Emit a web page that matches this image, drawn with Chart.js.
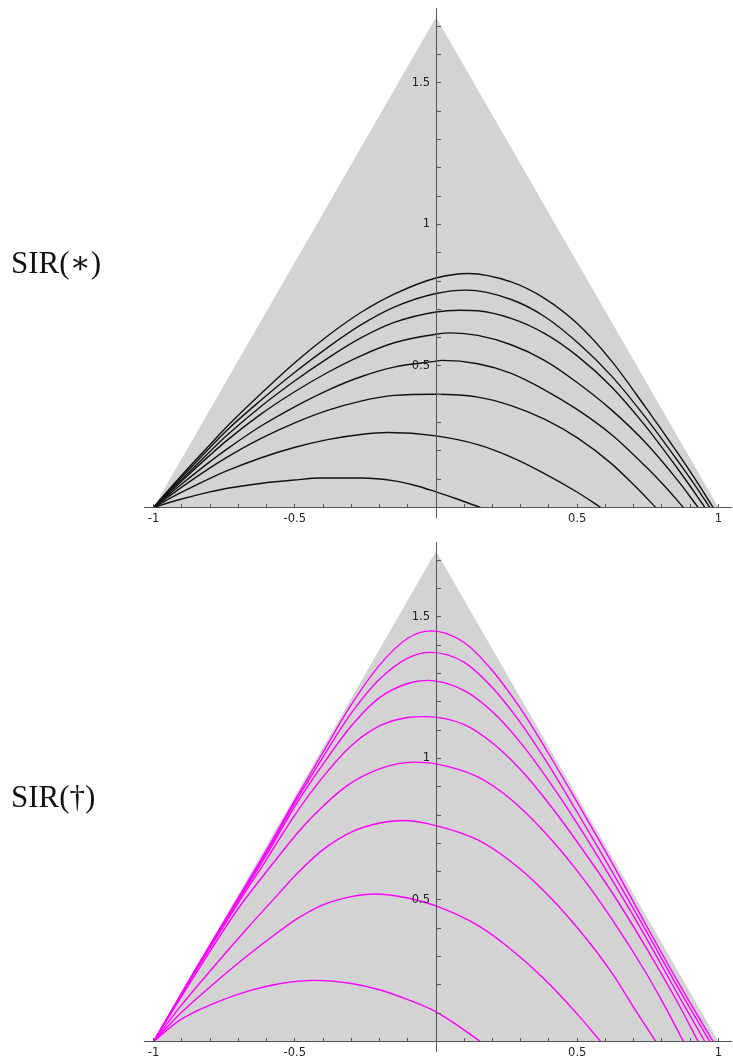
<!DOCTYPE html>
<html>
<head>
<meta charset="utf-8">
<script src="https://cdn.jsdelivr.net/npm/chart.js@4.4.0/dist/chart.umd.min.js"></script>
<style>
  html, body { margin: 0; padding: 0; background: #fff; overflow: hidden; }
  body { width: 733px; height: 1062px; position: relative; }
  .panel { position: absolute; left: 0; width: 733px; height: 528px; }
</style>
</head>
<body>
<div class="panel" style="top:0"><canvas id="starChart"></canvas></div>
<div class="panel" style="top:534px"><canvas id="daggerChart"></canvas></div>
<script>
// ternary triangle (S, I, R corners)
const triangleX = [-1, 0, 1];
const triangleY = [0, 1.732, 0];

// axis ticks
const xTickLabels = [-1, -0.5, 0.5, 1];
const yTickLabels = [0.5, 1, 1.5];
const xMinorTicks = [-1, -0.9, -0.8, -0.7, -0.6, -0.5, -0.4, -0.3, -0.2, -0.1, 0, 0.1, 0.2, 0.3, 0.4, 0.5, 0.6, 0.7, 0.8, 0.9, 1];
const yMinorTicks = [0.1, 0.2, 0.3, 0.4, 0.5, 0.6, 0.7, 0.8, 0.9, 1, 1.1, 1.2, 1.3, 1.4, 1.5, 1.6, 1.7];

// SIR(*) trajectories as [x, y]
const star1 = [[-1,0],[-0.95,0.058],[-0.9,0.114],[-0.8,0.222],[-0.739,0.287],[-0.621,0.401],[-0.502,0.51],[-0.384,0.606],[-0.266,0.689],[-0.148,0.754],[0,0.811],[0.114,0.827],[0.266,0.797],[0.384,0.739],[0.502,0.648],[0.621,0.518],[0.739,0.358],[0.857,0.19],[0.93,0.081],[0.981,0]];
const star2 = [[-1,0],[-0.95,0.055],[-0.9,0.108],[-0.8,0.212],[-0.739,0.274],[-0.621,0.378],[-0.502,0.476],[-0.384,0.565],[-0.266,0.645],[-0.148,0.708],[0,0.756],[0.107,0.768],[0.266,0.735],[0.384,0.675],[0.502,0.582],[0.621,0.465],[0.739,0.322],[0.857,0.163],[0.92,0.074],[0.969,0]];
const star3 = [[-1,0],[-0.95,0.051],[-0.9,0.1],[-0.8,0.198],[-0.739,0.256],[-0.621,0.356],[-0.502,0.446],[-0.384,0.527],[-0.266,0.599],[-0.148,0.654],[0,0.691],[0.084,0.697],[0.148,0.695],[0.266,0.668],[0.384,0.615],[0.502,0.534],[0.621,0.427],[0.739,0.291],[0.857,0.135],[0.9,0.075],[0.952,0]];
const star4 = [[-1,0],[-0.95,0.047],[-0.9,0.094],[-0.8,0.185],[-0.739,0.238],[-0.621,0.329],[-0.502,0.408],[-0.384,0.477],[-0.266,0.536],[-0.148,0.582],[0,0.612],[0.053,0.617],[0.148,0.608],[0.266,0.575],[0.384,0.52],[0.502,0.44],[0.621,0.345],[0.739,0.232],[0.857,0.094],[0.928,0]];
const star5 = [[-1,0],[-0.95,0.042],[-0.9,0.083],[-0.8,0.162],[-0.739,0.207],[-0.621,0.287],[-0.502,0.355],[-0.384,0.414],[-0.266,0.462],[-0.148,0.496],[0,0.517],[0.02,0.52],[0.148,0.508],[0.266,0.474],[0.384,0.416],[0.502,0.345],[0.621,0.258],[0.739,0.148],[0.81,0.075],[0.876,0]];
const star6 = [[-1,0],[-0.95,0.036],[-0.9,0.072],[-0.8,0.14],[-0.739,0.178],[-0.621,0.243],[-0.502,0.298],[-0.384,0.343],[-0.266,0.376],[-0.148,0.396],[0,0.4],[0.148,0.39],[0.266,0.36],[0.384,0.312],[0.502,0.245],[0.621,0.155],[0.7,0.08],[0.778,0]];
const star7 = [[-1,0],[-0.95,0.028],[-0.9,0.054],[-0.8,0.103],[-0.739,0.13],[-0.621,0.175],[-0.502,0.212],[-0.384,0.24],[-0.266,0.258],[-0.17,0.265],[0,0.253],[0.148,0.222],[0.266,0.178],[0.384,0.12],[0.502,0.053],[0.583,0]];
const star8 = [[-1,0],[-0.95,0.016],[-0.9,0.03],[-0.8,0.055],[-0.739,0.068],[-0.621,0.085],[-0.502,0.097],[-0.41,0.104],[-0.266,0.104],[-0.148,0.094],[-0.07,0.077],[0,0.055],[0.077,0.029],[0.157,0]];

// SIR(dagger) trajectories
const dagger1 = [[-1,0],[-0.95,0.086],[-0.85,0.258],[-0.7,0.508],[-0.6,0.676],[-0.5,0.852],[-0.4,1.022],[-0.3,1.19],[-0.2,1.33],[-0.1,1.425],[-0.017,1.451],[0.1,1.41],[0.2,1.31],[0.3,1.175],[0.4,1.015],[0.5,0.845],[0.621,0.635],[0.739,0.42],[0.857,0.21],[0.981,0]];
const dagger2 = [[-1,0],[-0.95,0.085],[-0.85,0.257],[-0.7,0.503],[-0.6,0.668],[-0.5,0.842],[-0.4,1.005],[-0.3,1.16],[-0.2,1.28],[-0.1,1.355],[-0.02,1.375],[0.1,1.34],[0.2,1.25],[0.3,1.125],[0.4,0.975],[0.5,0.81],[0.621,0.605],[0.739,0.4],[0.857,0.19],[0.969,0]];
const dagger3 = [[-1,0],[-0.95,0.084],[-0.85,0.255],[-0.7,0.498],[-0.6,0.659],[-0.5,0.83],[-0.4,0.98],[-0.3,1.115],[-0.2,1.215],[-0.1,1.265],[-0.03,1.276],[0.1,1.24],[0.2,1.165],[0.3,1.055],[0.4,0.92],[0.5,0.77],[0.621,0.575],[0.739,0.375],[0.857,0.165],[0.952,0]];
const dagger4 = [[-1,0],[-0.95,0.083],[-0.85,0.25],[-0.7,0.49],[-0.6,0.643],[-0.5,0.8],[-0.4,0.935],[-0.3,1.045],[-0.2,1.115],[-0.1,1.145],[-0.04,1.148],[0.1,1.12],[0.2,1.055],[0.3,0.96],[0.4,0.84],[0.5,0.705],[0.621,0.53],[0.739,0.34],[0.857,0.135],[0.928,0]];
const dagger5 = [[-1,0],[-0.95,0.08],[-0.85,0.24],[-0.7,0.47],[-0.567,0.642],[-0.5,0.725],[-0.431,0.801],[-0.313,0.905],[-0.195,0.965],[-0.077,0.987],[0,0.981],[0.148,0.935],[0.266,0.855],[0.384,0.74],[0.502,0.6],[0.621,0.435],[0.739,0.25],[0.81,0.125],[0.876,0]];
const dagger6 = [[-1,0],[-0.904,0.125],[-0.786,0.265],[-0.668,0.4],[-0.55,0.53],[-0.49,0.595],[-0.4,0.678],[-0.3,0.74],[-0.2,0.772],[-0.118,0.781],[0,0.763],[0.148,0.712],[0.266,0.635],[0.384,0.53],[0.502,0.4],[0.621,0.245],[0.7,0.12],[0.778,0]];
const dagger7 = [[-1,0],[-0.904,0.1],[-0.786,0.205],[-0.668,0.303],[-0.55,0.393],[-0.49,0.435],[-0.4,0.483],[-0.3,0.512],[-0.219,0.521],[-0.1,0.507],[0,0.479],[0.148,0.41],[0.266,0.325],[0.384,0.22],[0.502,0.095],[0.583,0]];
const dagger8 = [[-1,0],[-0.904,0.077],[-0.786,0.135],[-0.668,0.177],[-0.55,0.205],[-0.431,0.216],[-0.3,0.205],[-0.2,0.183],[-0.1,0.148],[0,0.105],[0.077,0.056],[0.157,0]];

const starCurves = [star1, star2, star3, star4, star5, star6, star7, star8];
const daggerCurves = [dagger1, dagger2, dagger3, dagger4, dagger5, dagger6, dagger7, dagger8];

const near = (v, list) => list.find(t => Math.abs(t - v) < 1e-6);
const axisFont = { family: "DejaVu Sans", size: 11.5 };

// panel caption plus the y tick labels, placed from the chart's own scales
const panelLabel = {
  id: "panelLabel",
  afterDraw(chart, args, opts) {
    const ctx = chart.ctx;
    const xs = chart.scales.x, ys = chart.scales.y;
    ctx.save();
    ctx.font = '31px "Liberation Serif", "DejaVu Serif", serif';
    ctx.fillStyle = "#111";
    ctx.textBaseline = "alphabetic";
    ctx.fillText(opts.text, 11, 273);

    ctx.font = axisFont.size + "px " + axisFont.family;
    ctx.fillStyle = "#222";
    ctx.textAlign = "right";
    ctx.textBaseline = "middle";
    const x0 = xs.getPixelForValue(0);
    yTickLabels.forEach((v) => ctx.fillText(String(v), x0 - 6, ys.getPixelForValue(v)));
    ctx.restore();
  },
};

// keep the crossing axes from eating into the plot area
const noBox = (horizontal) => (s) => {
  if (horizontal) s.height = 0; else s.width = 0;
  s.paddingTop = 0; s.paddingBottom = 0; s.paddingLeft = 0; s.paddingRight = 0;
};

function makeChart(id, curves, color, label) {
  const datasets = curves.map((pts) => ({
    data: pts.map(([x, y]) => ({ x, y })),
    showLine: true,
    borderColor: color,
    borderWidth: 1.4,
    pointRadius: 0,
    cubicInterpolationMode: "monotone",
    fill: false,
  }));
  // grey triangle goes last so it is painted underneath
  datasets.push({
    data: triangleX.map((x, i) => ({ x, y: triangleY[i] })),
    showLine: true,
    borderWidth: 0,
    borderColor: "rgba(0,0,0,0)",
    backgroundColor: "#d3d3d3",
    pointRadius: 0,
    fill: "origin",
  });

  return new Chart(document.getElementById(id), {
    type: "scatter",
    data: { datasets },
    plugins: [panelLabel],
    options: {
      responsive: true,
      maintainAspectRatio: false,
      animation: false,
      events: [],
      layout: { padding: { left: 144, right: 2, top: 8, bottom: 11 } },
      plugins: {
        legend: { display: false },
        tooltip: { enabled: false },
        panelLabel: { text: label },
      },
      scales: {
        x: {
          type: "linear",
          min: -1.0337,
          max: 1.0443,
          position: { y: 0 },
          afterBuildTicks: (s) => { s.ticks = xMinorTicks.map((v) => ({ value: v })); },
          afterFit: noBox(true),
          grid: { z: 1, drawOnChartArea: false, drawTicks: true, tickLength: -4, color: "#555", lineWidth: 1 },
          border: { z: 1, display: true, color: "#555", width: 1 },
          ticks: {
            z: 1,
            autoSkip: false,
            maxRotation: 0,
            padding: 8.6,
            color: "#222",
            font: axisFont,
            callback: (v) => { const t = near(v, xTickLabels); return t === undefined ? "" : String(t); },
          },
        },
        y: {
          type: "linear",
          min: -0.0336,
          max: 1.765,
          position: { x: 0 },
          afterBuildTicks: (s) => { s.ticks = yMinorTicks.map((v) => ({ value: v })); },
          afterFit: noBox(false),
          grid: { z: 1, drawOnChartArea: false, drawTicks: true, tickLength: -5, color: "#555", lineWidth: 1 },
          border: { z: 1, display: true, color: "#555", width: 1 },
          ticks: { z: 1, autoSkip: false, font: axisFont, callback: () => "" },
        },
      },
    },
  });
}

makeChart("starChart", starCurves, "#111", "SIR(\u2217)");
makeChart("daggerChart", daggerCurves, "#ff00ff", "SIR(\u2020)");
</script>
</body>
</html>
